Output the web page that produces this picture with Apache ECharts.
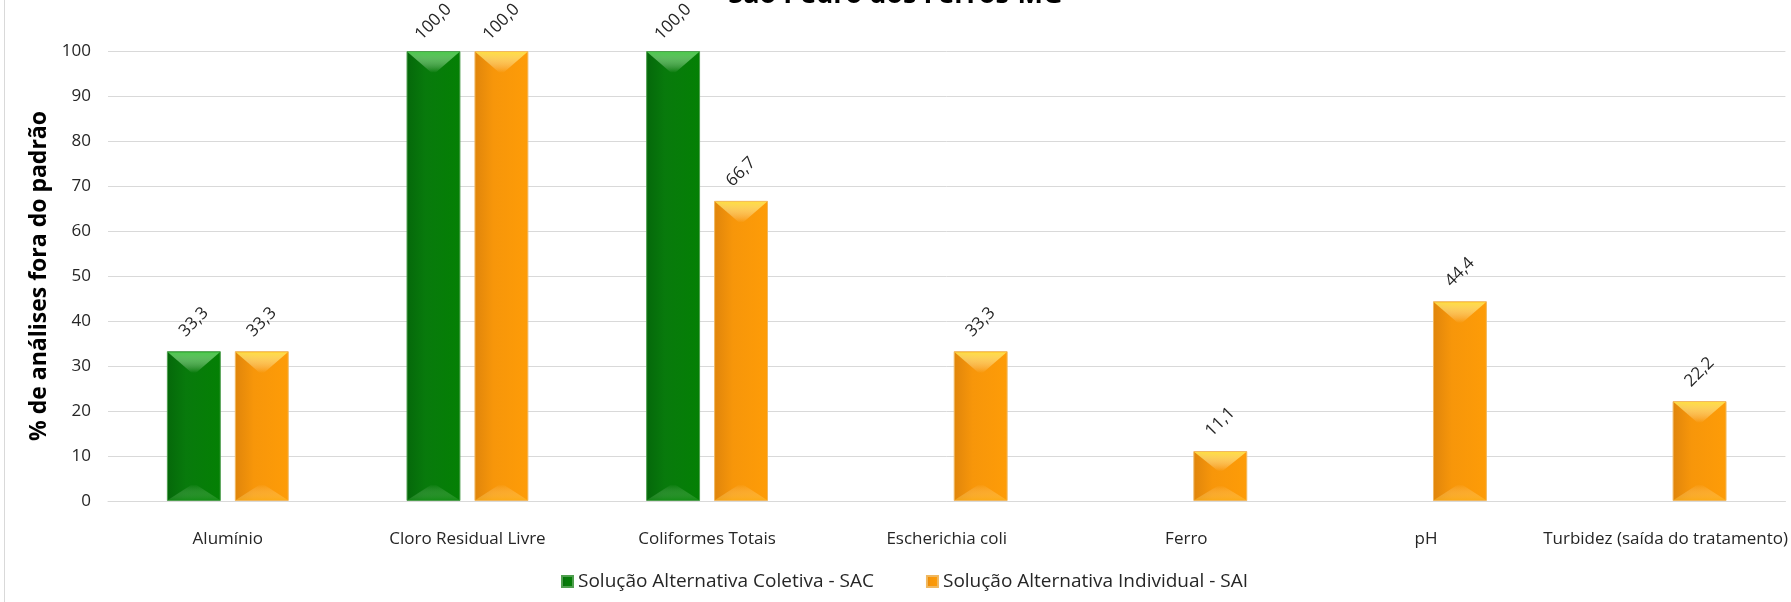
<!DOCTYPE html>
<html>
<head>
<meta charset="utf-8">
<script src="https://cdn.jsdelivr.net/npm/echarts@6/dist/echarts.min.js"></script>
<style>
html,body{margin:0;padding:0;background:#fff;}
#chart{width:1791px;height:602px;}
</style>
</head>
<body>
<div id="chart"></div>
<script>
const titleText = 'São Pedro dos Ferros-MG';
const yAxisName = '% de análises fora do padrão';
const categories = ['Alumínio', 'Cloro Residual Livre', 'Coliformes Totais', 'Escherichia coli', 'Ferro', 'pH', 'Turbidez (saída do tratamento)'];
const seriesNames = ['Solução Alternativa Coletiva - SAC', 'Solução Alternativa Individual - SAI'];
const sacValues = [33.3, 100.0, 100.0, null, null, null, null];
const saiValues = [33.3, 100.0, 66.7, 33.3, 11.1, 44.4, 22.2];

const font = 'Open Sans';
const BAR_W = 0.225, BAR_GAP = 0.26;
const chart = echarts.init(document.getElementById('chart'), null, {renderer: 'canvas'});

function grad(c0, c1, c2) {
  return new echarts.graphic.LinearGradient(0, 0, 1, 0, [
    {offset: 0, color: c0}, {offset: 0.35, color: c1}, {offset: 1, color: c2}
  ]);
}
const greenFill = grad('#05680a', '#087a0c', '#048004');
const orangeFill = grad('#e0850b', '#f7960a', '#fe9c07');

const labelCfg = {
  show: true,
  position: 'top',
  distance: 29,
  rotate: 45,
  align: 'center',
  verticalAlign: 'middle',
  fontFamily: font,
  fontSize: 17,
  color: '#262626',
  formatter: p => (p.value == null ? '' : p.value.toFixed(1).replace('.', ','))
};

function bevelSeries(values, sIdx, topColor, botColor) {
  return {
    type: 'custom',
    silent: true,
    z: 3,
    data: values.map((v, i) => [i, v]),
    renderItem: function (params, api) {
      const v = api.value(1);
      if (v == null || isNaN(v)) return null;
      const idx = api.value(0);
      const band = api.size([1, 0])[0];
      const w = band * BAR_W;
      const off = (w + w * BAR_GAP) / 2 * (sIdx === 0 ? -1 : 1);
      const top = api.coord([idx, v]);
      const base = api.coord([idx, 0]);
      const cx = top[0] + off;
      const x0 = cx - w / 2 + 1, x1 = cx + w / 2 - 1;
      const yt = top[1] + 1, yb = base[1] - 1;
      const d = Math.min(w / 2 - 1, (yb - yt) / 2);
      return {
        type: 'group',
        children: [{
          type: 'polygon',
          shape: {points: [[x0, yt], [x1, yt], [cx + 2, yt + d * 0.8], [cx - 2, yt + d * 0.8]]},
          style: {
            fill: new echarts.graphic.LinearGradient(0, 0, 0, 1, [
              {offset: 0, color: topColor}, {offset: 1, color: 'rgba(255,255,255,0)'}
            ])
          }
        }, {
          type: 'polygon',
          shape: {points: [[x0, yb], [x1, yb], [cx + 2, yb - d * 0.6], [cx - 2, yb - d * 0.6]]},
          style: {
            fill: new echarts.graphic.LinearGradient(0, 1, 0, 0, [
              {offset: 0, color: botColor}, {offset: 1, color: 'rgba(255,255,255,0)'}
            ])
          }
        }]
      };
    }
  };
}

chart.setOption({
  animation: false,
  backgroundColor: '#fff',
  title: {
    text: titleText,
    left: 'center',
    top: -23,
    padding: [5, 5, 5, 19],
    textStyle: {fontFamily: font, fontWeight: 'bold', fontSize: 27, color: '#000'}
  },
  legend: {
    data: seriesNames,
    left: 556,
    top: 567,
    itemWidth: 11,
    itemHeight: 11,
    itemGap: 52,
    icon: 'rect',
    textStyle: {fontFamily: font, fontSize: 19, color: '#262626'}
  },
  grid: {left: 108, right: 5, top: 51, bottom: 101, containLabel: false},
  xAxis: {
    type: 'category',
    data: categories,
    axisLine: {show: true, lineStyle: {color: '#d9d9d9', width: 1}},
    axisTick: {show: false},
    axisLabel: {fontFamily: font, fontSize: 17, color: '#262626', margin: 30, interval: 0}
  },
  yAxis: {
    type: 'value',
    min: 0,
    max: 100,
    interval: 10,
    name: yAxisName,
    nameLocation: 'middle',
    nameGap: 53,
    nameTextStyle: {fontFamily: font, fontWeight: 'bold', fontSize: 23, color: '#000'},
    axisLine: {show: false},
    axisTick: {show: false},
    axisLabel: {fontFamily: font, fontSize: 17, color: '#262626', margin: 17},
    splitLine: {lineStyle: {color: '#d9d9d9', width: 1}}
  },
  graphic: [{
    type: 'line',
    shape: {x1: 4.5, y1: 0, x2: 4.5, y2: 602},
    style: {stroke: '#d9d9d9', lineWidth: 1}
  }],
  series: [
    {
      name: seriesNames[0],
      type: 'bar',
      data: sacValues,
      barWidth: (BAR_W * 100) + '%',
      barGap: (BAR_GAP * 100) + '%',
      itemStyle: {color: greenFill, borderColor: '#4f9f4f', borderWidth: 1},
      label: labelCfg
    },
    {
      name: seriesNames[1],
      type: 'bar',
      data: saiValues,
      barWidth: (BAR_W * 100) + '%',
      barGap: (BAR_GAP * 100) + '%',
      itemStyle: {color: orangeFill, borderColor: '#f0b860', borderWidth: 1},
      label: labelCfg
    },
    bevelSeries(sacValues, 0, 'rgba(80,205,80,0.95)', 'rgba(40,160,40,0.45)'),
    bevelSeries(saiValues, 1, 'rgba(255,225,70,0.95)', 'rgba(255,190,40,0.5)')
  ]
});
</script>
</body>
</html>
